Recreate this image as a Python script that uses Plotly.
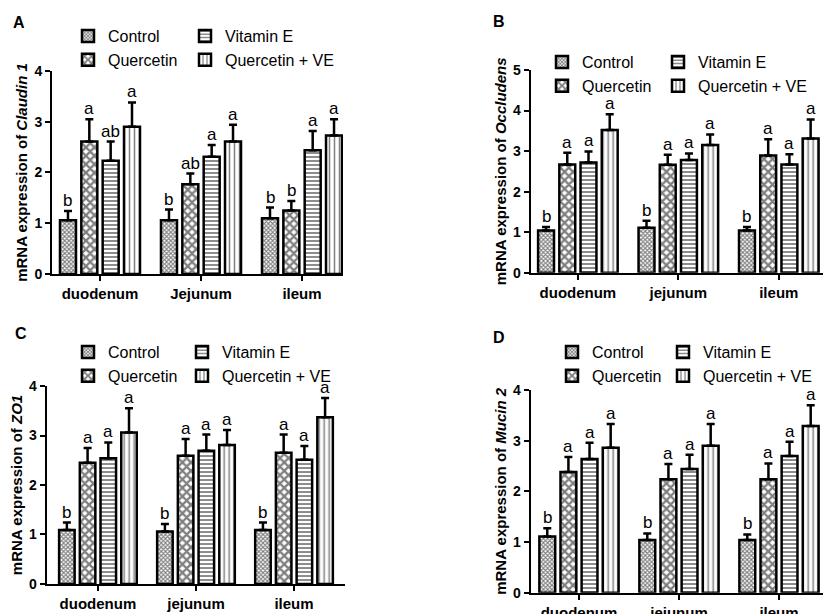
import plotly.graph_objects as go

# ---------------- data ----------------
groups = ["Control", "Quercetin", "Vitamin E", "Quercetin + VE"]
legend_column = [0, 0, 1, 1]   # which legend column each group is listed in

cats_A = ["duodenum", "Jejunum", "ileum"]
cats_other = ["duodenum", "jejunum", "ileum"]

# Panel A: Claudin 1
A_mean = {"Control": [1.06, 1.06, 1.10], "Quercetin": [2.61, 1.77, 1.25],
          "Vitamin E": [2.23, 2.31, 2.44], "Quercetin + VE": [2.90, 2.61, 2.73]}
A_top = {"Control": [1.24, 1.27, 1.31], "Quercetin": [3.05, 1.98, 1.44],
         "Vitamin E": [2.61, 2.54, 2.82], "Quercetin + VE": [3.38, 2.94, 3.05]}
A_let = {"Control": ["b", "b", "b"], "Quercetin": ["a", "ab", "b"],
         "Vitamin E": ["ab", "a", "a"], "Quercetin + VE": ["a", "a", "a"]}

# Panel B: Occludens
B_mean = {"Control": [1.04, 1.11, 1.04], "Quercetin": [2.67, 2.66, 2.89],
          "Vitamin E": [2.72, 2.78, 2.67], "Quercetin + VE": [3.52, 3.15, 3.31]}
B_top = {"Control": [1.13, 1.28, 1.13], "Quercetin": [2.96, 2.91, 3.29],
         "Vitamin E": [2.99, 2.94, 2.92], "Quercetin + VE": [3.91, 3.41, 3.78]}
B_let = {"Control": ["b", "b", "b"], "Quercetin": ["a", "a", "a"],
         "Vitamin E": ["a", "a", "a"], "Quercetin + VE": ["a", "a", "a"]}

# Panel C: ZO1
C_mean = {"Control": [1.09, 1.06, 1.09], "Quercetin": [2.45, 2.59, 2.65],
          "Vitamin E": [2.54, 2.69, 2.51], "Quercetin + VE": [3.06, 2.81, 3.37]}
C_top = {"Control": [1.24, 1.21, 1.24], "Quercetin": [2.75, 2.93, 3.02],
         "Vitamin E": [2.86, 3.02, 2.79], "Quercetin + VE": [3.55, 3.11, 3.76]}
C_let = B_let

# Panel D: Mucin 2
D_mean = {"Control": [1.11, 1.04, 1.04], "Quercetin": [2.38, 2.24, 2.24],
          "Vitamin E": [2.64, 2.44, 2.70], "Quercetin + VE": [2.86, 2.90, 3.29]}
D_top = {"Control": [1.27, 1.17, 1.15], "Quercetin": [2.68, 2.54, 2.55],
         "Vitamin E": [2.96, 2.72, 2.98], "Quercetin + VE": [3.33, 3.33, 3.70]}
D_let = B_let

y_titles = ["<b>mRNA expression of <i>Claudin 1</i></b>",
            "<b>mRNA expression of <i>Occludens</i></b>",
            "<b>mRNA expression of <i>ZO1</i></b>",
            "<b>mRNA expression of <i>Mucin 2</i></b>"]
panel_labels = ["A", "B", "C", "D"]
y_max = [4, 5, 4, 4]

# ---------------- styling ----------------
FONT = "Arial, Liberation Sans, sans-serif"
W, H = 823, 614
patterns = {
    "Control": dict(shape="x", size=3, solidity=0.6),
    "Quercetin": dict(shape="x", size=6, solidity=0.62),
    "Vitamin E": dict(shape="-", size=4, solidity=0.45),
    "Quercetin + VE": dict(shape="|", size=5, solidity=0.3),
}
BARGAP = 0.155
BARGROUPGAP = 0.25

panels = [
    dict(cats=cats_A, mean=A_mean, top=A_top, let=A_let,
         xdom=[0.0632, 0.4168], ydom=[0.5537, 0.8844], xr=[-0.475, 2.406],
         legx=(68, 185), legy=19, lab=(19, 22)),
    dict(cats=cats_other, mean=B_mean, top=B_top, let=B_let,
         xdom=[0.6448, 1.0], ydom=[0.5559, 0.8860], xr=[-0.47, 2.44],
         legx=(542, 658), legy=45, lab=(499, 21)),
    dict(cats=cats_other, mean=C_mean, top=C_top, let=C_let,
         xdom=[0.0567, 0.4192], ydom=[0.0489, 0.3713], xr=[-0.523, 2.52],
         legx=(68, 182), legy=335, lab=(21, 333)),
    dict(cats=cats_other, mean=D_mean, top=D_top, let=D_let,
         xdom=[0.6448, 1.0], ydom=[0.0347, 0.3648], xr=[-0.483, 2.44],
         legx=(552, 663), legy=335, lab=(499, 337)),
]

fig = go.Figure()
annotations = []
slot = (1 - BARGAP) / len(groups)
leg_counter = 0

for p_i, p in enumerate(panels):
    ax = "" if p_i == 0 else str(p_i + 1)
    legnames = []
    for col in range(2):
        leg_counter += 1
        name = "legend" if leg_counter == 1 else f"legend{leg_counter}"
        legnames.append(name)
        fig.layout[name] = dict(
            x=p["legx"][col] / W, y=1 - p["legy"] / H, xanchor="left", yanchor="top",
            orientation="v", bgcolor="rgba(0,0,0,0)", traceorder="normal",
            font=dict(family=FONT, size=16, color="black"))
    for g_i, g in enumerate(groups):
        means = p["mean"][g]
        tops = p["top"][g]
        fig.add_trace(go.Bar(
            x=p["cats"], y=means, name=g,
            xaxis="x" + ax, yaxis="y" + ax,
            legend=legnames[legend_column[g_i]],
            marker=dict(color="white", line=dict(color="black", width=2.5),
                        pattern=dict(fgcolor="black", bgcolor="white", **patterns[g])),
            error_y=dict(type="data", symmetric=False,
                         array=[t - m for t, m in zip(tops, means)],
                         arrayminus=[0] * len(means),
                         color="black", thickness=2.5, width=4),
        ))
        for c_i in range(len(p["cats"])):
            annotations.append(dict(
                x=c_i + (g_i - (len(groups) - 1) / 2) * slot, y=tops[c_i],
                xref="x" + ax, yref="y" + ax, text=p["let"][g][c_i],
                showarrow=False, yanchor="bottom", yshift=-1,
                font=dict(family=FONT, size=17, color="black")))
    annotations.append(dict(
        x=p["lab"][0] / W, y=1 - p["lab"][1] / H, xref="paper", yref="paper",
        text="<b>" + panel_labels[p_i] + "</b>", showarrow=False,
        xanchor="center", yanchor="middle",
        font=dict(family=FONT, size=16, color="black")))

    axis_common = dict(showline=True, linecolor="black", linewidth=2,
                       ticks="outside", tickcolor="black", tickwidth=2, ticklen=5,
                       showgrid=False, zeroline=False, automargin=False)
    fig.layout["xaxis" + ax] = dict(
        domain=p["xdom"], anchor="y" + ax, type="category", tickangle=0,
        range=p["xr"], tickfont=dict(family=FONT, size=15, color="black", weight="bold"),
        **axis_common)
    fig.layout["yaxis" + ax] = dict(
        domain=p["ydom"], anchor="x" + ax, range=[0, y_max[p_i]],
        dtick=1, tickfont=dict(family=FONT, size=14, color="black", weight="bold"),
        title=dict(text=y_titles[p_i], standoff=3,
                   font=dict(family=FONT, size=15, color="black")),
        **axis_common)

fig.update_layout(
    width=W, height=H, margin=dict(l=0, r=0, t=0, b=0, autoexpand=False),
    barmode="group", bargap=BARGAP, bargroupgap=BARGROUPGAP,
    plot_bgcolor="white", paper_bgcolor="white",
    annotations=annotations, font=dict(family=FONT, color="black"),
)

fig.write_html("out.html",
               config={"displayModeBar": False},
               post_script="document.body.style.margin='0px';"
                           "document.body.style.overflow='hidden';")
